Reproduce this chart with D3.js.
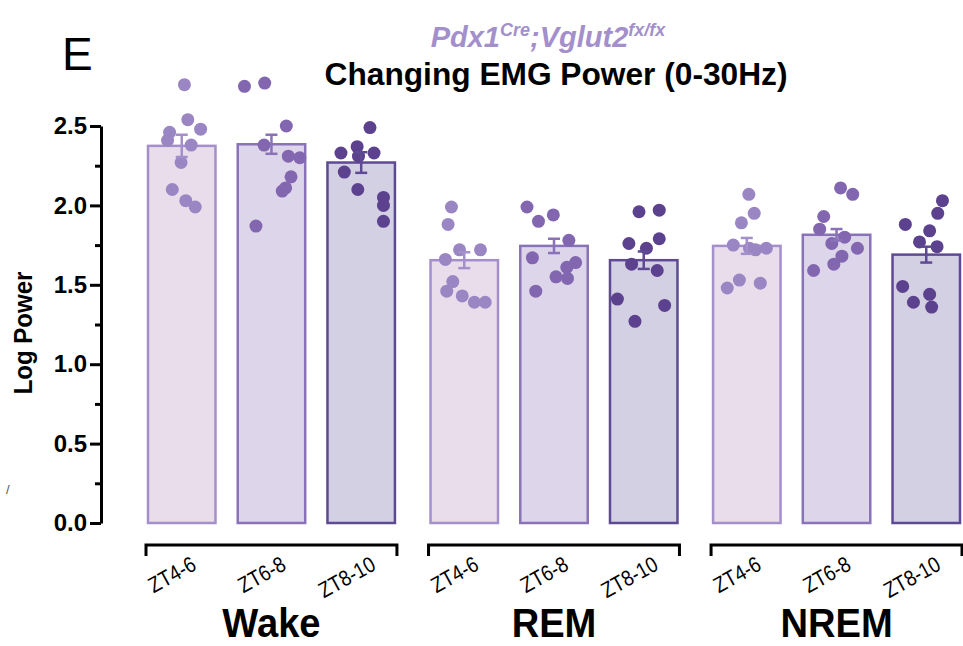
<!DOCTYPE html>
<html>
<head>
<meta charset="utf-8">
<script src="https://cdn.jsdelivr.net/npm/d3@7"></script>
<style>
  body { margin: 0; background: #fff; }
  svg text { font-family: "Liberation Sans", Arial, Helvetica, sans-serif; }
</style>
</head>
<body>
<div id="chart"></div>
<script>
const groups = ["Wake", "REM", "NREM"];
const periods = ["ZT4-6", "ZT6-8", "ZT8-10"];

// bar heights (mean) and SEM per period
const wakeMeans = [2.375, 2.385, 2.27];
const remMeans = [1.655, 1.745, 1.655];
const nremMeans = [1.745, 1.815, 1.69];
const wakeSem = [0.07, 0.06, 0.065];
const remSem = [0.05, 0.045, 0.055];
const nremSem = [0.05, 0.036, 0.05];

// individual animals
const wakePoints = [
  [2.76, 2.54, 2.46, 2.48, 2.41, 2.38, 2.27, 2.10, 2.03, 1.99],
  [2.75, 2.77, 2.50, 2.38, 2.31, 2.30, 2.18, 2.11, 2.09, 1.87],
  [2.49, 2.33, 2.37, 2.33, 2.31, 2.21, 2.10, 2.05, 2.00, 1.90]
];
const remPoints = [
  [1.99, 1.88, 1.72, 1.72, 1.66, 1.52, 1.46, 1.43, 1.39, 1.39],
  [1.99, 1.90, 1.94, 1.78, 1.67, 1.64, 1.61, 1.55, 1.54, 1.46],
  [1.96, 1.97, 1.76, 1.79, 1.73, 1.63, 1.59, 1.41, 1.37, 1.27]
];
const nremPoints = [
  [2.07, 1.95, 1.89, 1.75, 1.73, 1.72, 1.73, 1.53, 1.48, 1.51],
  [2.11, 2.07, 1.93, 1.85, 1.80, 1.76, 1.73, 1.68, 1.63, 1.59],
  [2.03, 1.95, 1.88, 1.84, 1.77, 1.74, 1.49, 1.39, 1.44, 1.36]
];

// horizontal scatter of the dots (fraction of bar width from bar centre)
const wakeJitter = [
  [0.04, 0.09, -0.18, 0.28, -0.21, 0.14, -0.01, -0.14, 0.06, 0.20],
  [-0.40, -0.10, 0.22, -0.11, 0.25, 0.42, 0.29, 0.21, 0.16, -0.23],
  [0.13, -0.30, -0.06, 0.19, -0.04, -0.25, -0.05, 0.33, 0.33, 0.33]
];
const remJitter = [
  [-0.19, -0.24, -0.07, 0.24, -0.28, -0.17, -0.26, -0.03, 0.15, 0.31],
  [-0.40, -0.23, -0.01, 0.22, -0.32, 0.32, 0.19, 0.03, 0.20, -0.27],
  [-0.07, 0.23, -0.22, 0.23, 0.04, -0.18, 0.20, -0.39, 0.31, -0.13]
];
const nremJitter = [
  [0.03, 0.11, -0.08, -0.20, 0.04, 0.13, 0.29, -0.11, -0.29, 0.20],
  [0.06, 0.24, -0.19, -0.25, 0.12, -0.07, 0.31, 0.08, -0.04, -0.34],
  [0.24, 0.17, -0.31, 0.05, -0.10, 0.16, -0.35, -0.19, 0.05, 0.08]
];

const yMajor = [0, 0.5, 1.0, 1.5, 2.0, 2.5];
const yMinor = [0.25, 0.75, 1.25, 1.75, 2.25];

const barFill = ["#e9ddec", "#ddd5e9", "#d4d0e3"];
const barStroke = ["#a48fcb", "#8a72b9", "#5e4a92"];
const dotColor = ["#9b86c4", "#8267b0", "#5c418e"];

const width = 963, height = 646;
const margin = {top: 126, right: 3, bottom: 123, left: 148};
const axisX = 101;

const meansAll = [wakeMeans, remMeans, nremMeans];
const semAll = [wakeSem, remSem, nremSem];
const pointsAll = [wakePoints, remPoints, nremPoints];
const jitterAll = [wakeJitter, remJitter, nremJitter];

const rows = [];
groups.forEach((g, i) => periods.forEach((p, j) => {
  rows.push({group: g, period: p, pi: j, mean: meansAll[i][j], sem: semAll[i][j],
    points: pointsAll[i][j].map((v, k) => ({v: v, jit: jitterAll[i][j][k]}))});
}));

const svg = d3.select("#chart").append("svg")
  .attr("width", width).attr("height", height);

const xGroup = d3.scaleBand().domain(groups)
  .range([margin.left, width - margin.right])
  .paddingInner(0.126).paddingOuter(0);
const xPeriod = d3.scaleBand().domain(periods)
  .range([0, xGroup.bandwidth()])
  .paddingInner(0.248).paddingOuter(0);
const y = d3.scaleLinear().domain([0, 2.5]).range([height - margin.bottom, margin.top]);

const bw = xPeriod.bandwidth();
const cx = d => xGroup(d.group) + xPeriod(d.period) + bw / 2;

// squeeze a text horizontally so it looks like the condensed font of the original
function squeeze(sel, k) {
  sel.each(function() {
    const len = this.getComputedTextLength();
    d3.select(this).attr("textLength", len * k).attr("lengthAdjust", "spacingAndGlyphs");
  });
}

// y axis
const yAxisG = svg.append("g").attr("transform", `translate(${axisX},0)`);
yAxisG.call(d3.axisLeft(y).tickValues(yMajor).tickFormat(d3.format(".1f"))
  .tickSize(11).tickSizeOuter(0).tickPadding(3));
yAxisG.select(".domain").attr("stroke", "#000").attr("stroke-width", 3);
yAxisG.selectAll(".tick line").attr("stroke", "#000").attr("stroke-width", 3);
yAxisG.selectAll(".tick text").attr("fill", "#000")
  .style("font-size", "24px").style("font-weight", "bold");
const yMinorG = svg.append("g").attr("transform", `translate(${axisX},0)`);
yMinorG.call(d3.axisLeft(y).tickValues(yMinor).tickFormat("").tickSize(6).tickSizeOuter(0));
yMinorG.select(".domain").remove();
yMinorG.selectAll(".tick line").attr("stroke", "#000").attr("stroke-width", 3);

svg.append("text")
  .attr("transform", `translate(32,333) rotate(-90)`)
  .attr("text-anchor", "middle")
  .style("font-size", "25px").style("font-weight", "bold")
  .text("Log Power")
  .call(squeeze, 0.96);

// bars
svg.append("g").selectAll("rect").data(rows).join("rect")
  .attr("x", d => xGroup(d.group) + xPeriod(d.period))
  .attr("y", d => y(d.mean))
  .attr("width", bw)
  .attr("height", d => y(0) - y(d.mean))
  .attr("fill", d => barFill[d.pi])
  .attr("stroke", d => barStroke[d.pi])
  .attr("stroke-width", 2.5);

// dots
const dotG = svg.append("g");
rows.forEach(d => {
  dotG.selectAll(null).data(d.points).join("circle")
    .attr("cx", p => cx(d) + p.jit * bw)
    .attr("cy", p => y(p.v))
    .attr("r", 6.5)
    .attr("fill", dotColor[d.pi]);
});

// error bars
const errG = svg.append("g").selectAll("g").data(rows).join("g")
  .attr("stroke", d => barStroke[d.pi]).attr("stroke-width", 2.5);
errG.append("line")
  .attr("x1", cx).attr("x2", cx)
  .attr("y1", d => y(d.mean - d.sem)).attr("y2", d => y(d.mean + d.sem));
errG.append("line")
  .attr("x1", d => cx(d) - 6).attr("x2", d => cx(d) + 6)
  .attr("y1", d => y(d.mean - d.sem)).attr("y2", d => y(d.mean - d.sem));
errG.append("line")
  .attr("x1", d => cx(d) - 6).attr("x2", d => cx(d) + 6)
  .attr("y1", d => y(d.mean + d.sem)).attr("y2", d => y(d.mean + d.sem));

// group brackets
const bracketY = 545;
svg.append("g").selectAll("path").data(groups).join("path")
  .attr("d", g => {
    const x0 = xGroup(g) - 2, x1 = xGroup(g) + xGroup.bandwidth() + 2;
    return `M${x0},${bracketY + 11}V${bracketY}H${x1}V${bracketY + 11}`;
  })
  .attr("fill", "none").attr("stroke", "#000").attr("stroke-width", 3);

// period labels
svg.append("g").selectAll("text").data(rows).join("text")
  .attr("transform", d => `translate(${cx(d) + 16},569) rotate(-29)`)
  .attr("text-anchor", "end")
  .style("font-size", "22px")
  .text(d => d.period)
  .call(squeeze, 0.86);

// group labels
svg.append("g").selectAll("text").data(groups).join("text")
  .attr("x", g => xGroup(g) + xGroup.bandwidth() / 2)
  .attr("y", 637)
  .attr("text-anchor", "middle")
  .style("font-size", "41px").style("font-weight", "bold")
  .text(g => g)
  .call(squeeze, 0.93);

// titles
svg.append("text").attr("x", 62).attr("y", 70)
  .style("font-size", "46px").text("E");

svg.append("text").attr("x", 556).attr("y", 85)
  .attr("text-anchor", "middle")
  .style("font-size", "32px").style("font-weight", "bold")
  .text("Changing EMG Power (0-30Hz)")
  .call(squeeze, 0.99);

const sub = svg.append("text").attr("x", 548).attr("y", 47)
  .attr("text-anchor", "middle")
  .attr("fill", "#a38fcb")
  .style("font-size", "29px").style("font-weight", "bold").style("font-style", "italic");
sub.append("tspan").text("Pdx1");
sub.append("tspan").attr("dy", -11).style("font-size", "18px").text("Cre");
sub.append("tspan").attr("dy", 11).text(";Vglut2");
sub.append("tspan").attr("dy", -11).style("font-size", "18px").text("fx/fx");

svg.append("text").attr("x", 6).attr("y", 494)
  .attr("fill", "#555").style("font-size", "13px").text("/");
</script>
</body>
</html>
